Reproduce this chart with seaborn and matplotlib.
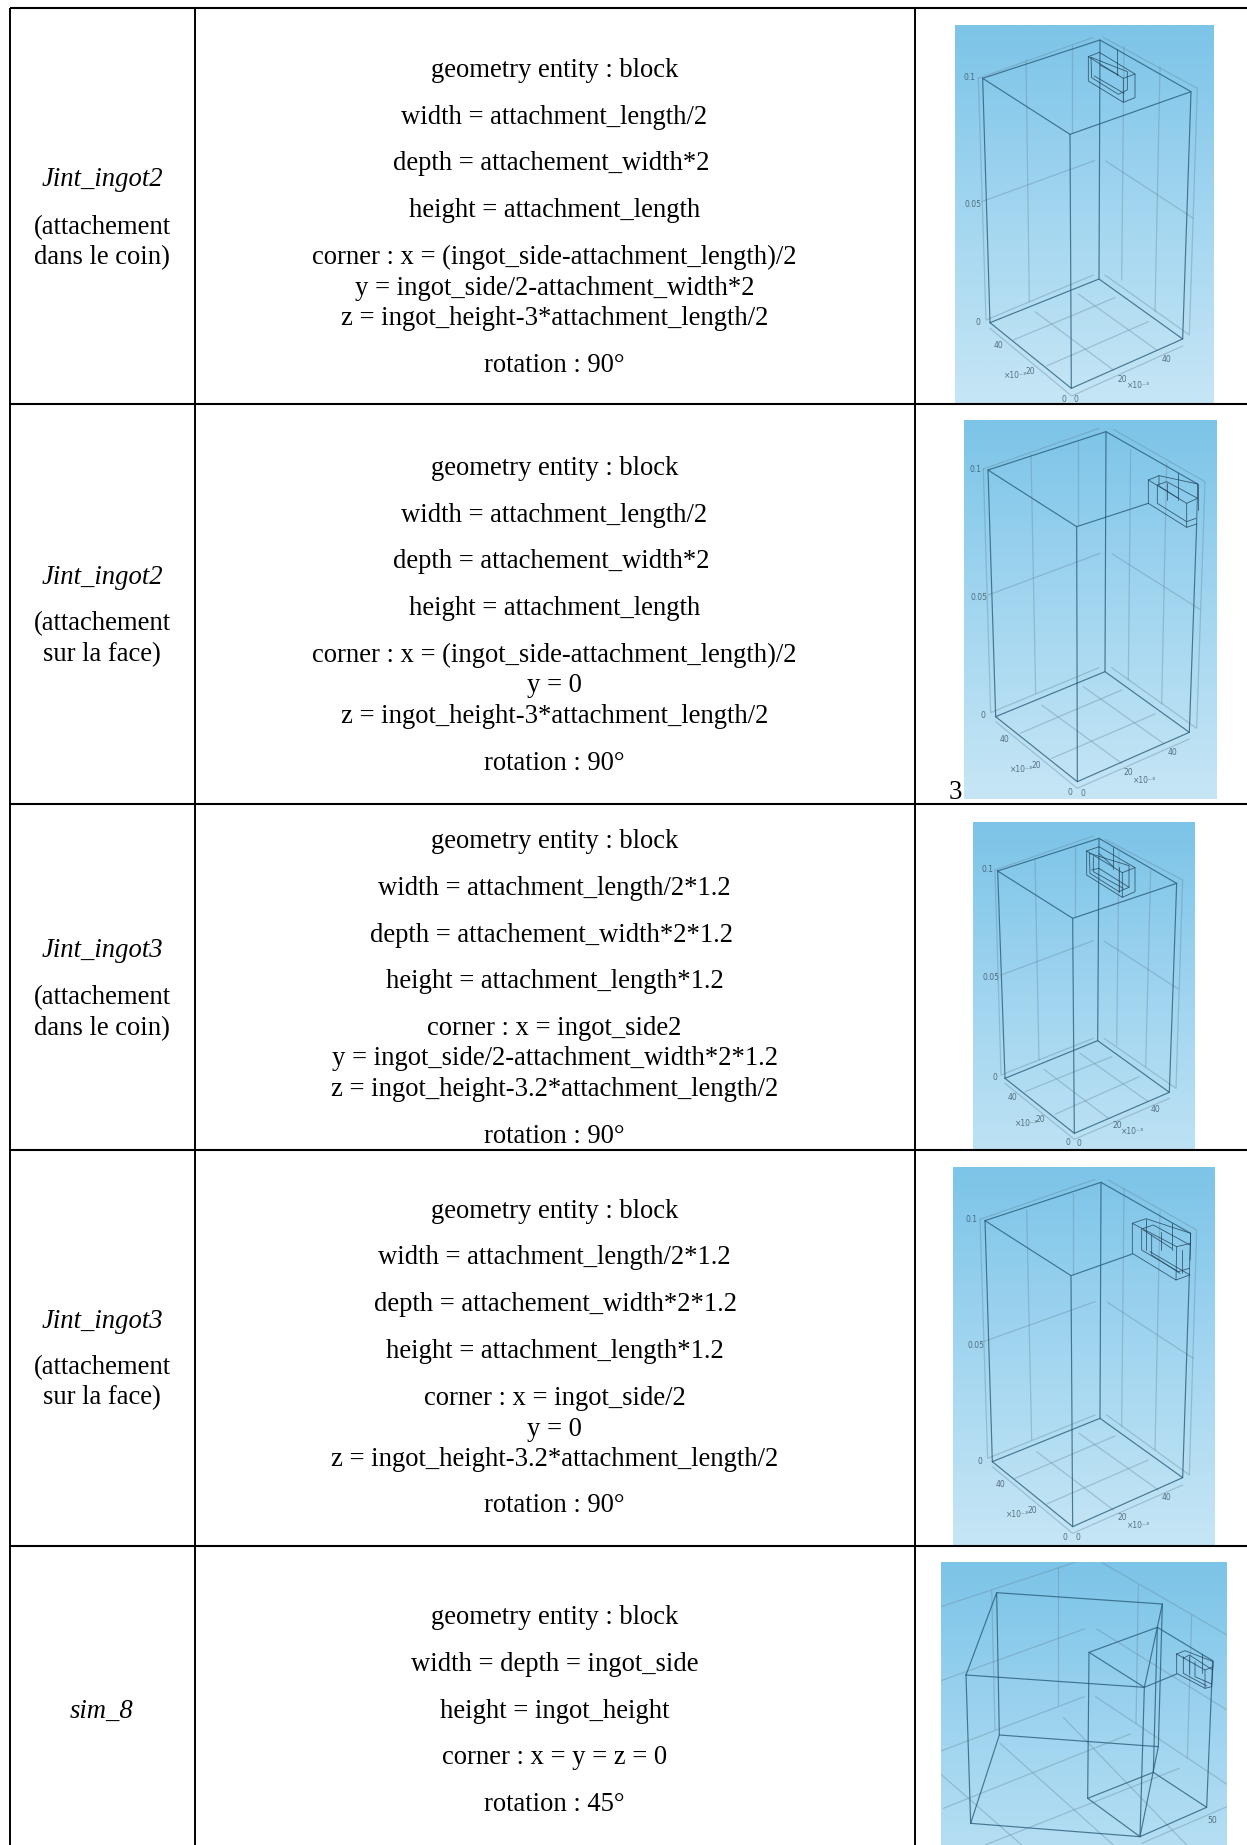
import numpy as np
import pandas as pd
import matplotlib
matplotlib.use("Agg")
import matplotlib.pyplot as plt
from matplotlib.colors import LinearSegmentedColormap
import seaborn as sns

W, H = 1247, 1845
sns.set_theme(style="white")
plt.rcParams["font.family"] = ["Liberation Serif", "DejaVu Serif"]

# ---------- table text ----------
col0_names = ["Jint_ingot2", "Jint_ingot2", "Jint_ingot3", "Jint_ingot3", "sim_8"]
col0_notes = [["(attachement", "dans le coin)"], ["(attachement", "sur la face)"],
              ["(attachement", "dans le coin)"], ["(attachement", "sur la face)"], []]
col0_ys = [[186, 234, 264], [584, 630, 661], [957, 1004, 1035], [1328, 1374, 1404], [1718]]

row1_lines = ["geometry entity : block", "width = attachment_length/2", "depth = attachement_width*2",
              "height = attachment_length", "corner : x = (ingot_side-attachment_length)/2",
              "y = ingot_side/2-attachment_width*2", "z = ingot_height-3*attachment_length/2", "rotation : 90°"]
row2_lines = ["geometry entity : block", "width = attachment_length/2", "depth = attachement_width*2",
              "height = attachment_length", "corner : x = (ingot_side-attachment_length)/2",
              "y = 0", "z = ingot_height-3*attachment_length/2", "rotation : 90°"]
row3_lines = ["geometry entity : block", "width = attachment_length/2*1.2", "depth = attachement_width*2*1.2",
              "height = attachment_length*1.2", "corner : x = ingot_side2",
              "y = ingot_side/2-attachment_width*2*1.2", "z = ingot_height-3.2*attachment_length/2", "rotation : 90°"]
row4_lines = ["geometry entity : block", "width = attachment_length/2*1.2", "depth = attachement_width*2*1.2",
              "height = attachment_length*1.2", "corner : x = ingot_side/2",
              "y = 0", "z = ingot_height-3.2*attachment_length/2", "rotation : 90°"]
row5_lines = ["geometry entity : block", "width = depth = ingot_side", "height = ingot_height",
              "corner : x = y = z = 0", "rotation : 45°"]
row1_ys = [77, 124, 170, 217, 264, 295, 325, 372]
row2_ys = [475, 522, 568, 615, 662, 692, 723, 770]
row3_ys = [848, 895, 942, 988, 1035, 1065, 1096, 1143]
row4_ys = [1218, 1264, 1311, 1358, 1405, 1436, 1466, 1512]
row5_ys = [1624, 1671, 1718, 1764, 1811]
# lines of the third row of each block that sit slightly left of the cell centre
row_depth_nudge = [-3, -3, -3, 1, 0]

rule_ys = [8, 404, 804, 1150, 1546]
rule_xs = [10, 195, 915]

# ---------- panels: pixel box, crop origin ----------
panel_boxes = [(955, 25, 1213, 404), (964, 420, 1217, 799), (973, 822, 1195, 1150),
               (953, 1167, 1215, 1546), (941, 1562, 1227, 1845)]
panel_origins = [(900, 0), (900, 400), (900, 800), (900, 1150), (900, 1530)]

# wireframes, in crop units
p1_main = [[(248,235),(600,120),(873,275),(510,403),(248,235)], [(270,968),(597,837),(848,1017),(514,1165),(270,968)],
           [(248,235),(270,968)], [(600,120),(597,837)], [(873,275),(848,1017)], [(510,403),(514,1165)]]
p1_grid = [[(235,235),(580,112)], [(235,235),(258,960),(580,825)], [(615,825),(868,1005),(892,265),(610,112)],
           [(378,178),(388,905)], [(517,135),(517,400)], [(672,140),(665,840)], [(780,200),(765,935)],
           [(245,605),(583,482)], [(617,483),(880,655)], [(405,935),(640,1110)], [(535,882),(770,1050)],
           [(340,1020),(645,893)], [(440,1098),(745,965)], [(270,985),(515,1188),(848,1038)]]
p1_att = [[(565,170),(598,157),(705,222),(705,293),(670,307),(565,243),(565,170)], [(565,170),(670,235),(670,307)],
          [(670,235),(705,222)], [(573,172),(682,215),(682,270),(655,283),(575,233),(573,172)],
          [(600,195),(655,225)], [(652,148),(652,225)], [(583,228),(672,280)]]
p1_labels = [("0.1",208,232),("0.05",220,614),("0",234,968),("40",295,1038),("×10⁻³",347,1128),("20",392,1116),
             ("0",491,1197),("0",529,1200),("20",666,1138),("×10⁻³",715,1158),("40",798,1078)]

p2_main = [[(264,210),(618,95),(893,252)], [(745,310),(530,380),(264,210)], [(287,950),(615,815),(868,997),(532,1145),(287,950)],
           [(264,210),(287,950)], [(618,95),(615,815)], [(890,372),(868,997)], [(530,380),(532,1145)]]
p2_grid = [[(250,207),(597,85)], [(250,207),(272,938),(597,803)], [(635,803),(890,985),(915,245),(640,88)],
           [(393,165),(407,880)], [(535,125),(535,375)], [(692,150),(685,840)], [(800,190),(785,912)],
           [(265,585),(600,460)], [(637,462),(900,628)], [(425,915),(665,1090)], [(550,860),(790,1030)],
           [(360,1000),(665,870)], [(455,1075),(765,942)], [(287,965),(532,1165),(868,1017)]]
p2_att = [[(745,240),(777,227),(893,252),(890,372),(860,382),(745,310),(745,240)], [(745,240),(860,310),(860,382)],
          [(860,310),(893,295)], [(772,255),(772,310),(860,365),(888,355)], [(777,227),(777,258),(835,295)],
          [(835,218),(835,300)], [(800,250),(800,300)], [(772,255),(800,245),(893,295)], [(893,252),(893,330)]]
p2_labels = [("0.1",225,208),("0.05",238,592),("0",250,947),("40",313,1017),("×10⁻³",365,1108),("20",408,1096),
             ("0",510,1177),("0",548,1180),("20",686,1118),("×10⁻³",735,1141),("40",818,1058)]

p3_main = [[(293,213),(597,115),(830,250),(518,355),(293,213)], [(315,835),(593,722),(808,877),(523,1000),(315,835)],
           [(293,213),(315,835)], [(597,115),(593,722)], [(830,250),(808,877)], [(518,355),(523,1000)]]
p3_grid = [[(285,210),(580,108)], [(285,210),(303,825),(580,715)], [(612,715),(828,865),(848,240),(615,118)],
           [(405,180),(417,780)], [(525,140),(525,352)], [(657,155),(650,735)], [(752,210),(737,800)],
           [(303,525),(580,422)], [(612,423),(835,567)], [(432,808),(625,955)], [(540,760),(745,905)],
           [(375,875),(635,770)], [(465,943),(718,830)], [(315,850),(523,1018),(808,895)]]
p3_att = [[(560,153),(597,140),(705,203),(705,275),(667,292),(560,225),(560,153)], [(560,153),(667,218),(667,292)],
          [(667,218),(705,203)], [(568,160),(687,197),(687,262),(657,275),(570,220),(568,160)],
          [(580,170),(580,215),(670,265)], [(597,160),(640,200)], [(640,140),(640,207)], [(657,200),(657,275)],
          [(575,210),(597,205),(687,262)]]
p3_labels = [("0.1",262,210),("0.05",274,534),("0",284,833),("40",338,892),("×10⁻³",380,970),("20",420,958),
             ("0",505,1028),("0",537,1032),("20",653,978),("×10⁻³",697,996),("40",766,928)]

p4_main = [[(255,212),(603,97),(872,250)], [(697,312),(513,377),(255,212)], [(277,935),(600,805),(848,983),(518,1130),(277,935)],
           [(255,212),(277,935)], [(603,97),(600,805)], [(868,375),(848,983)], [(513,377),(518,1130)]]
p4_grid = [[(240,208),(585,88)], [(240,208),(263,925),(585,795)], [(620,795),(868,975),(890,240),(625,90)],
           [(380,180),(395,870)], [(520,130),(520,375)], [(672,115),(665,830)], [(780,185),(765,900)],
           [(250,575),(585,455)], [(622,457),(880,625)], [(410,905),(640,1080)], [(537,850),(775,1020)],
           [(345,985),(645,858)], [(440,1062),(745,930)], [(277,950),(518,1150),(848,1005)]]
p4_att = [[(697,220),(738,206),(872,250),(868,375),(828,390),(697,310),(697,220)], [(697,220),(830,290),(828,390)],
          [(830,290),(872,280)], [(725,237),(725,300),(835,365),(868,355)], [(725,237),(760,225),(870,285)],
          [(755,255),(755,315),(840,370)], [(738,206),(738,300)], [(815,218),(815,300)], [(782,245),(782,300)],
          [(730,240),(815,295)], [(845,300),(845,370)], [(872,250),(870,330)], [(750,305),(870,375)]]
p4_labels = [("0.1",215,208),("0.05",229,586),("0",241,934),("40",302,1003),("×10⁻³",352,1094),("20",397,1082),
             ("0",496,1161),("0",533,1164),("20",668,1103),("×10⁻³",717,1125),("40",798,1044)]

p5_main = [[(198,435),(290,188),(787,222),(733,472),(198,435)], [(212,880),(298,615),(775,650),(720,920),(212,880)],
           [(198,435),(212,880)], [(290,188),(298,615)], [(787,222),(775,650)], [(733,472),(720,920)],
           [(733,472),(567,367),(772,292),(938,392)], [(733,472),(830,432)], [(567,367),(563,805)], [(772,292),(760,727)],
           [(938,392),(920,832)], [(563,805),(760,727),(920,832),(720,920),(563,805)]]
p5_grid = [[(123,230),(525,97)], [(605,97),(981,315)], [(475,110),(475,525)], [(275,180),(285,600)],
           [(715,165),(708,580)], [(875,255),(862,685)], [(123,452),(553,297)], [(590,297),(981,540)],
           [(123,663),(553,500)], [(587,500),(981,763)], [(123,733),(365,945)], [(490,562),(860,945)],
           [(130,835),(690,612)], [(255,945),(838,715)], [(300,640),(640,945)], [(725,940),(981,830)]]
p5_att = [[(830,372),(855,362),(940,395),(935,470),(915,475),(830,430),(830,372)], [(830,372),(915,420),(915,475)],
          [(915,420),(940,410)], [(850,380),(850,430),(920,468)], [(868,378),(868,432)], [(850,385),(868,375),(938,420)],
          [(885,395),(885,440),(935,462)], [(905,372),(905,430)]]
p5_labels = [("50",936,871)]

panel_main = [p1_main, p2_main, p3_main, p4_main, p5_main]
panel_grid = [p1_grid, p2_grid, p3_grid, p4_grid, p5_grid]
panel_att = [p1_att, p2_att, p3_att, p4_att, p5_att]
panel_labels = [p1_labels, p2_labels, p3_labels, p4_labels, p5_labels]

stray_label = ("3", 955, 799)


def frame(polylines):
    rows = []
    for i, pl in enumerate(polylines):
        for k, (x, y) in enumerate(pl):
            rows.append((i, k, x, y))
    return pd.DataFrame(rows, columns=["unit", "order", "x", "y"])


def wire(ax, polylines, color, lw, alpha, z):
    sns.lineplot(data=frame(polylines), x="x", y="y", units="unit", estimator=None, sort=False,
                 color=color, linewidth=lw, alpha=alpha, ax=ax, legend=False, zorder=z,
                 solid_capstyle="round")


fig = plt.figure(figsize=(W / 100, H / 100), dpi=100, facecolor="white")
sky = LinearSegmentedColormap.from_list("sky", ["#7CC4E8", "#A3D6F0", "#C6E6F5"])

for box, origin, main, grid, att, labels in zip(panel_boxes, panel_origins, panel_main, panel_grid, panel_att, panel_labels):
    x0, y0, x1, y1 = box
    ax = fig.add_axes([x0 / W, 1 - y1 / H, (x1 - x0) / W, (y1 - y0) / H], zorder=1)
    xl = ((x0 - origin[0]) * 3, (x1 - origin[0]) * 3)
    yl = ((y1 - origin[1]) * 3, (y0 - origin[1]) * 3)
    frac = (y1 - y0) / 379
    ax.imshow(np.linspace(0, frac, 256)[:, None], cmap=sky, vmin=0, vmax=1, aspect="auto",
              extent=(xl[0], xl[1], yl[0], yl[1]), zorder=0, interpolation="bilinear")
    wire(ax, grid, "#6A8BA0", 0.9, 0.4, 2)
    wire(ax, main, "#2A5D7A", 0.85, 0.8, 3)
    wire(ax, att, "#1E3F55", 0.6, 0.8, 4)
    for txt, tx, ty in labels:
        ax.text(tx, ty, txt, fontsize=5.5, color="#3B5263", ha="center", va="center",
                family=["DejaVu Sans"], alpha=0.8, zorder=5)
    ax.set_xlim(*xl)
    ax.set_ylim(*yl)
    ax.set_xlabel("")
    ax.set_ylabel("")
    ax.set_xticks([])
    ax.set_yticks([])
    for s in ax.spines.values():
        s.set_visible(False)

base = fig.add_axes([0, 0, 1, 1], zorder=5)
base.patch.set_visible(False)
base.set_xlim(0, W)
base.set_ylim(H, 0)
base.axis("off")

base.hlines(rule_ys, rule_xs[0], W, color="black", lw=1.5)
base.vlines(rule_xs, rule_ys[0], H, color="black", lw=1.4)

FS = 19.2
COLX0, COLX1 = 102, 554.5
for lines, ys, nudge in zip([row1_lines, row2_lines, row3_lines, row4_lines, row5_lines],
                            [row1_ys, row2_ys, row3_ys, row4_ys, row5_ys], row_depth_nudge):
    for i, (t, y) in enumerate(zip(lines, ys)):
        dx = nudge if i == 2 else 0
        base.text(COLX1 + dx, y, t, fontsize=FS, ha="center", va="baseline", color="black")
for name, notes, ys in zip(col0_names, col0_notes, col0_ys):
    base.text(COLX0, ys[0], name, fontsize=FS, ha="center", va="baseline", style="italic", color="black")
    for t, y in zip(notes, ys[1:]):
        base.text(COLX0, y, t, fontsize=FS, ha="center", va="baseline", color="black")
base.text(stray_label[1], stray_label[2], stray_label[0], fontsize=FS, ha="center", va="baseline", color="black")

fig.savefig("out.png", dpi=100, facecolor="white")
